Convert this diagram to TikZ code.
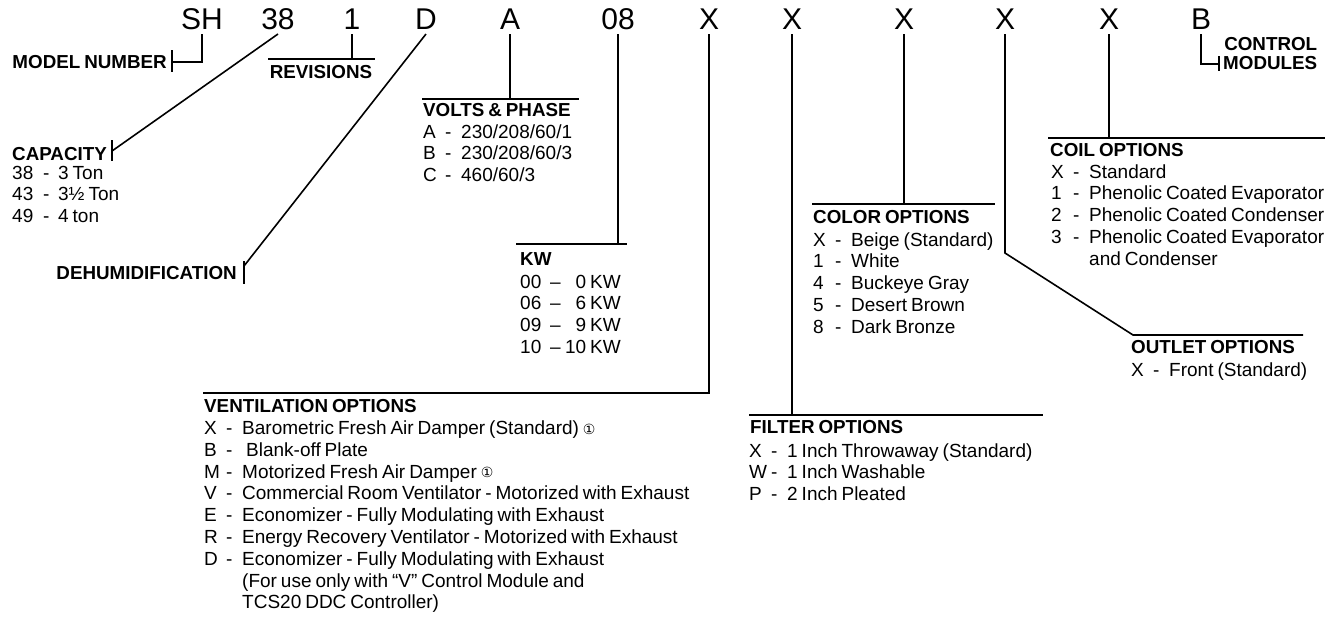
\documentclass[tikz,border=0pt]{standalone}
\usepackage{fontspec}
\setmainfont{Liberation Sans}[WordSpace=0.75]
\newfontfamily\symfont{DejaVu Sans}
\newcommand{\optrows}[1]{\begin{tabular}[t]{@{}l@{}}#1\end{tabular}}
\newcommand{\opt}[2]{\makebox[22pt][l]{#1}\makebox[16pt][l]{-}#2}
\newcommand{\optcont}[1]{\hspace*{38pt}#1}
\newcommand{\capopt}[2]{\makebox[31pt][l]{#1}\makebox[15pt][l]{-}#2}
\newcommand{\kwopt}[2]{\makebox[30pt][l]{#1}\makebox[14pt][l]{–}\makebox[22pt][r]{#2}\ KW}
\newcommand{\circnote}{\ \raisebox{0.5pt}{\symfont\fontsize{14}{14}\selectfont ①}}
\begin{document}
\begin{tikzpicture}[x=1pt, y=-1pt,
  code/.style={font=\fontsize{30}{30}\selectfont, inner sep=0pt, outer ysep=5pt,
               text depth=0pt, anchor=base},
  head/.style={font=\fontsize{18.8}{18.8}\selectfont\bfseries, inner sep=0pt},
  list/.style={font=\fontsize{19}{21.8}\selectfont, inner sep=0pt,
               anchor=base west},
  lead/.style={line width=1.6pt},
  rule/.style={line width=1.8pt},
]
\useasboundingbox (0,0) rectangle (1336,622);

% Model number code
\node[code] (cSH) at (202,29) {SH};
\node[code] (c38) at (278,29) {38};
\node[code] (c1)  at (352,29) {1};
\node[code] (cD)  at (426,29) {D};
\node[code] (cA)  at (510,29) {A};
\node[code] (c08) at (618,29) {08};
\node[code] (cX1) at (709,29) {X};
\node[code] (cX2) at (792,29) {X};
\node[code] (cX3) at (904,29) {X};
\node[code] (cX4) at (1005,29) {X};
\node[code] (cX5) at (1109,29) {X};
\node[code] (cB)  at (1201,29) {B};

% Model number
\node[head, anchor=base east] (hModel) at (167,68) {MODEL NUMBER};
\coordinate (tModel) at (172,62);
\draw[lead] (cSH.south) |- (tModel);
\draw[lead] ([yshift=12pt]tModel) -- ([yshift=-10pt]tModel);

% Capacity
\node[head, anchor=base west] (hCap) at (12,160) {CAPACITY};
\node[list] (lCap) at (12,179) {\optrows{\capopt{38}{3 Ton}\\ \capopt{43}{3½ Ton}\\ \capopt{49}{4 ton}}};
\coordinate (tCap) at (112,151);
\draw[lead] (c38.south) -- (tCap);
\draw[lead] ([yshift=11pt]tCap) -- ([yshift=-10pt]tCap);

% Revisions
\coordinate (rRevL) at (268,59);
\coordinate (rRevR) at (375,59);
\draw[rule] (rRevL) -- (rRevR);
\draw[lead] (c1.south) -- (c1.south |- rRevL);
\node[head, anchor=base] (hRev) at (321,78) {REVISIONS};

% Dehumidification
\node[head, anchor=base east] (hDehum) at (237,279) {DEHUMIDIFICATION};
\coordinate (tDehum) at (244,266);
\draw[lead] (cD.south) -- (tDehum);
\draw[lead] ([yshift=5pt]tDehum) -- ([yshift=-18pt]tDehum);

% Volts & phase
\coordinate (rVoltsL) at (422,99);
\coordinate (rVoltsR) at (579,99);
\draw[rule] (rVoltsL) -- (rVoltsR);
\draw[lead] (cA.south) -- (cA.south |- rVoltsL);
\node[head, anchor=base west] (hVolts) at (423,116) {VOLTS \& PHASE};
\node[list] (lVolts) at (423,138) {\optrows{\opt{A}{230/208/60/1}\\ \opt{B}{230/208/60/3}\\ \opt{C}{460/60/3}}};

% KW
\coordinate (rKWL) at (516,244);
\coordinate (rKWR) at (627,244);
\draw[rule] (rKWL) -- (rKWR);
\draw[lead] (c08.south) -- (c08.south |- rKWL);
\node[head, anchor=base west] (hKW) at (520,265) {KW};
\node[list] (lKW) at (520,288) {\optrows{\kwopt{00}{0}\\ \kwopt{06}{6}\\ \kwopt{09}{9}\\ \kwopt{10}{10}}};

% Ventilation options
\coordinate (rVentL) at (203,393);
\draw[lead] (cX1.south) |- (rVentL);
\node[head, anchor=base west] (hVent) at (204,412) {VENTILATION OPTIONS};
\node[list] (lVent) at (204,434.5) {\optrows{\opt{X}{Barometric Fresh Air Damper (Standard)\circnote}\\
  \opt{B}{\ Blank-off Plate}\\
  \opt{M}{Motorized Fresh Air Damper\circnote}\\
  \opt{V}{Commercial Room Ventilator - Motorized with Exhaust}\\
  \opt{E}{Economizer - Fully Modulating with Exhaust}\\
  \opt{R}{Energy Recovery Ventilator - Motorized with Exhaust}\\
  \opt{D}{Economizer - Fully Modulating with Exhaust}\\
  \optcont{(For use only with “V” Control Module and}\\
  \optcont{TCS20 DDC Controller)}}};

% Filter options
\coordinate (rFiltL) at (749,415);
\coordinate (rFiltR) at (1043,415);
\draw[rule] (rFiltL) -- (rFiltR);
\draw[lead] (cX2.south) -- (cX2.south |- rFiltL);
\node[head, anchor=base west] (hFilter) at (750,433) {FILTER OPTIONS};
\node[list] (lFilter) at (749,457) {\optrows{\opt{X}{1 Inch Throwaway (Standard)}\\ \opt{W}{1 Inch Washable}\\ \opt{P}{2 Inch Pleated}}};

% Color options
\coordinate (rColL) at (812,204);
\coordinate (rColR) at (995,204);
\draw[rule] (rColL) -- (rColR);
\draw[lead] (cX3.south) -- (cX3.south |- rColL);
\node[head, anchor=base west] (hColor) at (813,223) {COLOR OPTIONS};
\node[list] (lColor) at (813,246) {\optrows{\opt{X}{Beige (Standard)}\\ \opt{1}{White}\\ \opt{4}{Buckeye Gray}\\ \opt{5}{Desert Brown}\\ \opt{8}{Dark Bronze}}};

% Outlet options
\coordinate (bOutlet) at (1005,253);
\coordinate (rOutL) at (1133,335);
\coordinate (rOutR) at (1303,335);
\draw[lead] (cX4.south) -- (bOutlet) -- (rOutL) -- (rOutR);
\node[head, anchor=base west] (hOutlet) at (1131,353) {OUTLET OPTIONS};
\node[list] (lOutlet) at (1131,376) {\opt{X}{Front (Standard)}};

% Coil options
\coordinate (rCoilL) at (1048,138);
\coordinate (rCoilR) at (1325,138);
\draw[rule] (rCoilL) -- (rCoilR);
\draw[lead] (cX5.south) -- (cX5.south |- rCoilL);
\node[head, anchor=base west] (hCoil) at (1050,156) {COIL OPTIONS};
\node[list] (lCoil) at (1051,178) {\optrows{\opt{X}{Standard}\\ \opt{1}{Phenolic Coated Evaporator}\\ \opt{2}{Phenolic Coated Condenser}\\ \opt{3}{Phenolic Coated Evaporator}\\ \optcont{and Condenser}}};

% Control modules
\coordinate (tCtrl) at (1219,64);
\draw[lead] (cB.south) |- (tCtrl);
\draw[lead] ([yshift=8pt]tCtrl) -- ([yshift=-7pt]tCtrl);
\node[head, anchor=base west, align=right] (hCtrl) at (1223,69) {CONTROL\\MODULES};

\end{tikzpicture}
\end{document}
